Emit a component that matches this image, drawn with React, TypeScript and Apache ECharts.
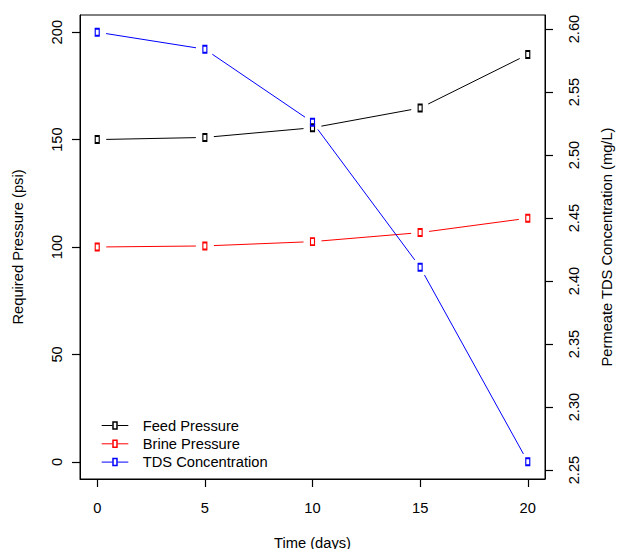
import React, { useEffect, useRef } from 'react';
import * as echarts from 'echarts';

const days = [0, 5, 10, 15, 20];
const feedPressure = [150, 151, 155.5, 164.7, 189.6];
const brinePressure = [100, 100.5, 102.5, 106.7, 113.4];
const tdsConcentration = [2.5975, 2.584, 2.526, 2.411, 2.2565];
const xTicks = [0, 5, 10, 15, 20];
const pressureTicks = [0, 50, 100, 150, 200];
const tdsTicks = [2.25, 2.3, 2.35, 2.4, 2.45, 2.5, 2.55, 2.6];
const seriesNames = ['Feed Pressure', 'Brine Pressure', 'TDS Concentration'];
const seriesColors = ['#000000', '#ff0000', '#0000ff'];

const FONT = "'Liberation Sans', Arial, Helvetica, sans-serif";
const FS = 14.7;
const GAP = 9;

function extend(lo: number, hi: number) {
  const r = hi - lo;
  return [lo - 0.04 * r, hi + 0.04 * r];
}

function segmentSeries(name: string, color: string, xs: number[], ys: number[], yAxisIndex: number) {
  const data = xs.slice(0, -1).map((x, i) => [x, ys[i], xs[i + 1], ys[i + 1]]);
  return {
    type: 'custom',
    name,
    yAxisIndex,
    data,
    silent: true,
    encode: { x: [0, 2], y: [1, 3] },
    z: 2,
    renderItem: (_params: any, api: any) => {
      const p0 = api.coord([api.value(0), api.value(1)]);
      const p1 = api.coord([api.value(2), api.value(3)]);
      const dx = p1[0] - p0[0];
      const dy = p1[1] - p0[1];
      const len = Math.hypot(dx, dy);
      if (len <= 2 * GAP) return null;
      const ux = dx / len;
      const uy = dy / len;
      return {
        type: 'line',
        shape: {
          x1: p0[0] + ux * GAP,
          y1: p0[1] + uy * GAP,
          x2: p1[0] - ux * GAP,
          y2: p1[1] - uy * GAP,
        },
        style: { stroke: color, lineWidth: 1 },
      };
    },
  };
}

function markerSeries(name: string, color: string, xs: number[], ys: number[], yAxisIndex: number) {
  return {
    type: 'scatter',
    name,
    yAxisIndex,
    silent: true,
    z: 3,
    data: xs.map((x, i) => [x, ys[i]]),
    symbol: 'rect',
    symbolSize: [4, 7],
    itemStyle: { color: 'rgba(0,0,0,0)', borderColor: color, borderWidth: 1.5, opacity: 1 },
  };
}

export default function App() {
  const ref = useRef<HTMLDivElement>(null);
  useEffect(() => {
    if (!ref.current) return;
    const chart = echarts.init(ref.current, null, { renderer: 'svg' });
    const tdsRange = extend(Math.min(...tdsConcentration), Math.max(...tdsConcentration));
    const xRange = extend(Math.min(...days), Math.max(...days));
    const pRange = extend(0, 200);

    const legendRowsY = [425.5, 443.8, 462.1];
    const legendGraphics: any[] = [];
    seriesNames.forEach((n, i) => {
      const y = legendRowsY[i];
      legendGraphics.push({
        type: 'line',
        shape: { x1: 101.7, y1: y, x2: 112.5, y2: y },
        style: { stroke: seriesColors[i], lineWidth: 1 },
      });
      legendGraphics.push({
        type: 'line',
        shape: { x1: 117.5, y1: y, x2: 128.3, y2: y },
        style: { stroke: seriesColors[i], lineWidth: 1 },
      });
      legendGraphics.push({
        type: 'rect',
        shape: { x: 113, y: y - 3.5, width: 4, height: 7 },
        style: { fill: 'none', stroke: seriesColors[i], lineWidth: 1.5 },
      });
      legendGraphics.push({
        type: 'text',
        x: 142.7,
        y,
        style: {
          text: n,
          fill: '#000',
          font: `${FS}px ${FONT}`,
          textAlign: 'left',
          textVerticalAlign: 'middle',
        },
      });
    });

    const axisLabelBase = { color: '#000', fontSize: FS, fontFamily: FONT };
    const nameStyle = { color: '#000', fontSize: FS, fontFamily: FONT };
    const axisLine = { show: true, onZero: false, lineStyle: { color: '#000', width: 1 } };
    const tick = (vals: number[]) => ({
      show: true,
      inside: false,
      length: 8,
      customValues: vals,
      lineStyle: { color: '#000', width: 1.2 },
    });

    chart.setOption({
      animation: false,
      backgroundColor: '#fff',
      grid: {
        left: 80,
        right: 72,
        top: 15,
        bottom: 70,
        show: true,
        borderColor: '#000',
        borderWidth: 1,
        backgroundColor: 'transparent',
        outerBoundsMode: 'none',
      },
      xAxis: {
        type: 'value',
        min: xRange[0],
        max: xRange[1],
        name: 'Time (days)',
        nameLocation: 'middle',
        nameGap: 56,
        nameTextStyle: nameStyle,
        axisLine,
        splitLine: { show: false },
        axisTick: tick(xTicks),
        axisLabel: { ...axisLabelBase, margin: 21, customValues: xTicks, formatter: (v: number) => String(v) },
      },
      yAxis: [
        {
          type: 'value',
          position: 'left',
          min: pRange[0],
          max: pRange[1],
          name: 'Required Pressure (psi)',
          nameLocation: 'middle',
          nameRotate: 90,
          nameGap: 54.6,
          nameTextStyle: nameStyle,
          axisLine,
          splitLine: { show: false },
          axisTick: tick(pressureTicks),
          axisLabel: { ...axisLabelBase, rotate: 90, margin: 15.5, customValues: pressureTicks, formatter: (v: number) => String(v) },
        },
        {
          type: 'value',
          position: 'right',
          min: tdsRange[0],
          max: tdsRange[1],
          name: 'Permeate TDS Concentration (mg/L)',
          nameLocation: 'middle',
          nameRotate: 90,
          nameGap: 54,
          nameTextStyle: nameStyle,
          axisLine,
          splitLine: { show: false },
          axisTick: tick(tdsTicks),
          axisLabel: { ...axisLabelBase, rotate: 90, margin: 21, customValues: tdsTicks, formatter: (v: number) => v.toFixed(2) },
        },
      ],
      graphic: legendGraphics,
      series: [
        segmentSeries(seriesNames[0], seriesColors[0], days, feedPressure, 0),
        segmentSeries(seriesNames[1], seriesColors[1], days, brinePressure, 0),
        segmentSeries(seriesNames[2], seriesColors[2], days, tdsConcentration, 1),
        markerSeries(seriesNames[0], seriesColors[0], days, feedPressure, 0),
        markerSeries(seriesNames[1], seriesColors[1], days, brinePressure, 0),
        markerSeries(seriesNames[2], seriesColors[2], days, tdsConcentration, 1),
      ],
    });
    return () => chart.dispose();
  }, []);
  return (
    <div
      ref={ref}
      style={{ position: 'absolute', left: 0, top: 0, width: 617, height: 549, background: '#fff' }}
    />
  );
}
